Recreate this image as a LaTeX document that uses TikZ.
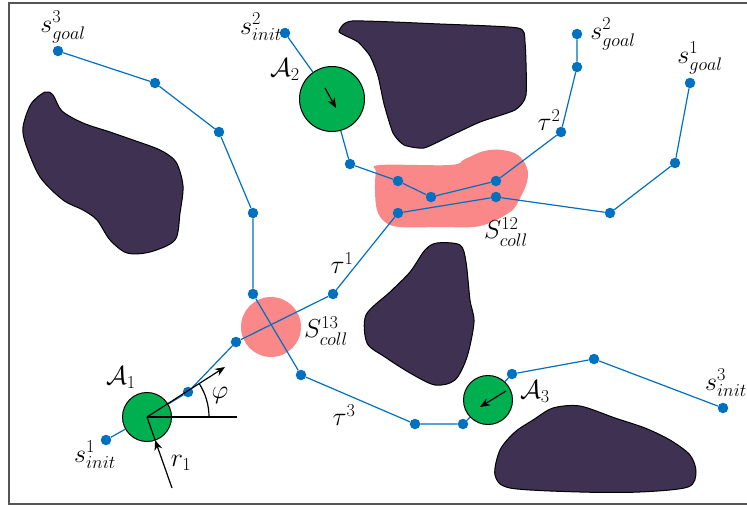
\documentclass[tikz,border=0pt]{standalone}
\usepackage{fix-cm}
\usepackage{amsmath,amssymb}
\usepackage{tikz}
\usetikzlibrary{arrows.meta,positioning,calc}
\definecolor{cPath}{HTML}{0070C0}
\definecolor{cAgent}{HTML}{00B050}
\definecolor{cObst}{HTML}{3F3151}
\definecolor{cColl}{HTML}{FA8888}
\definecolor{cFrame}{HTML}{555555}
\tikzset{
  >={Stealth[length=10pt,width=8pt]},
  wp/.style    ={circle,fill=cPath,inner sep=0pt,minimum size=10.5pt},
  agent/.style ={circle,draw=black,fill=cAgent,line width=1pt,inner sep=0pt},
  coll/.style  ={circle,fill=cColl,inner sep=0pt},
  traj/.style  ={cPath,line width=1.2pt},
  obst/.style  ={draw=black,fill=cObst,line width=1pt},
  lbl/.style   ={font=\fontsize{26}{30}\selectfont,inner sep=0pt},
  ar/.style    ={->,line width=1.2pt,black},
}

\begin{document}
\begin{tikzpicture}[x=1pt,y=-1pt]
\useasboundingbox (0,0) rectangle (747,507);
% frame
\draw[cFrame,line width=1.8pt] (760,3) -- (9,3) -- (9,504) -- (760,504);

% obstacles
\filldraw[obst] plot[smooth cycle,tension=0.5] coordinates {
  (45,92) (53,95) (62,111) (83,123) (110,132) (133,140) (160,150) (176,162)
  (183,186) (180,213) (175,240) (150,252) (127,253) (110,240) (97,220)
  (83,210) (63,200) (40,177) (26,145) (23,127) (31,104)};
\filldraw[obst] plot[smooth cycle,tension=0.35] coordinates {
  (339,31) (352,21) (440,24) (518,28) (525,42) (526,95) (515,110)
  (480,122) (450,136) (424,148) (404,145) (393,133) (384,104) (378,76)
  (370,56) (358,42) (344,35)};
\filldraw[obst] plot[smooth cycle,tension=0.5] coordinates {
  (437,243) (460,245) (466,262) (470,300) (474,322) (467,357) (455,380)
  (435,385) (410,373) (385,357) (367,343) (366,315) (390,292) (410,272) (425,250)};
\filldraw[obst] plot[smooth cycle,tension=0.5] coordinates {
  (553,408) (580,406) (615,418) (645,428) (670,440) (690,455) (696,472)
  (688,487) (640,492) (580,492) (510,488) (495,475) (500,450) (515,432) (533,420)};

% collision regions
\fill[cColl] plot[smooth cycle,tension=0.6] coordinates {
  (380,165) (450,165) (465,159) (484,151) (502,150) (518,155) (527,168)
  (527,182) (520,198) (510,212) (480,226) (440,227) (400,227) (385,222)
  (377,210) (375,190) (376,172)};
\node[coll,minimum size=60pt] (s13) at (271,327) {};

% trajectory 1
\node[wp] (s1i) at (106,440) {};
\node[agent,minimum size=49pt] (a1) at (147,417) {};
\node[wp] (p1a) at (188,392) {};
\node[wp] (p1b) at (236,342) {};
\node[wp] (p1c) at (333,294) {};
\node[wp] (p1d) at (398,213) {};
\node[wp] (p1e) at (496,197) {};
\node[wp] (p1f) at (610,213) {};
\node[wp] (p1g) at (675,163) {};
\node[wp] (s1g) at (690,83) {};
\draw[traj] (s1i) -- (a1) -- (p1a) -- (p1b) -- (p1c) -- (p1d) -- (p1e)
  -- (p1f) -- (p1g) -- (s1g);

% trajectory 2
\node[wp] (s2i) at (285,33) {};
\node[agent,minimum size=65pt] (a2) at (332,99) {};
\node[wp] (p2a) at (350,164) {};
\node[wp] (p2b) at (398,181) {};
\node[wp] (p2c) at (431,197) {};
\node[wp] (p2d) at (496,181) {};
\node[wp] (p2e) at (561,132) {};
\node[wp] (p2f) at (577,67) {};
\node[wp] (s2g) at (577,34) {};
\draw[traj] (s2i) -- (a2) -- (p2a) -- (p2b) -- (p2c) -- (p2d) -- (p2e)
  -- (p2f) -- (s2g);

% trajectory 3
\node[wp] (s3g) at (58,51) {};
\node[wp] (p3a) at (155,83) {};
\node[wp] (p3b) at (219,132) {};
\node[wp] (p3c) at (253,213) {};
\node[wp] (p3d) at (253,294) {};
\node[wp] (p3e) at (301,375) {};
\node[wp] (p3f) at (415,424) {};
\node[wp] (p3g) at (463,424) {};
\node[agent,minimum size=49pt] (a3) at (488,400) {};
\node[wp] (p3h) at (512,374) {};
\node[wp] (p3i) at (594,359) {};
\node[wp] (s3i) at (723,408) {};
\draw[traj] (s3g) -- (p3a) -- (p3b) -- (p3c) -- (p3d) -- (p3e) -- (p3f)
  -- (p3g) -- (a3) -- (p3h) -- (p3i) -- (s3i);

% heading and radius of A1
\coordinate (phitip) at (225,367);
\coordinate (hz) at (237,417);
\coordinate (redge) at (155.1,440.1);
\coordinate (rtail) at (172,488);
\draw[ar] (a1.center) -- (phitip);
\draw[line width=1.2pt] (a1.center) -- (hz);
\draw[line width=1.2pt] (a1.center) -- (redge);
\draw[ar] (rtail) -- (redge);
\draw[line width=1.2pt] ($(a1.center)+(62,0)$) arc[start angle=0,end angle=32.7,radius=62pt];

% headings of A2, A3
\coordinate (h2s) at (325,88);
\coordinate (h2e) at (336,108);
\coordinate (h3s) at (506,391);
\coordinate (h3e) at (480,407);
\draw[ar] (h2s) -- (h2e);
\draw[ar] (h3s) -- (h3e);

% labels
\node[lbl] (ls3g) at (63,27) {$s^3_{goal}$};
\node[lbl] (ls2i) at (261,27) {$s^2_{init}$};
\node[lbl] (ls2g) at (613,34) {$s^2_{goal}$};
\node[lbl] (ls1g) at (700,58) {$s^1_{goal}$};
\node[lbl] (lt2) at (549,120) {$\tau^2$};
\node[lbl] (lS12) at (506,232) {$S^{12}_{coll}$};
\node[lbl] (lt1) at (342,263) {$\tau^1$};
\node[lbl] (lS13) at (326,331) {$S^{13}_{coll}$};
\node[lbl] (la1) at (121,378) {$\mathcal{A}_1$};
\node[lbl] (ls1i) at (95,455) {$s^1_{init}$};
\node[lbl] (lr1) at (181,463) {$r_1$};
\node[lbl] (lphi) at (220,395) {$\varphi$};
\node[lbl] (la2) at (285,70) {$\mathcal{A}_2$};
\node[lbl] (lt3) at (344,415) {$\tau^3$};
\node[lbl] (la3) at (535,392) {$\mathcal{A}_3$};
\node[lbl] (ls3i) at (726,383) {$s^3_{init}$};
\end{tikzpicture}
\end{document}
